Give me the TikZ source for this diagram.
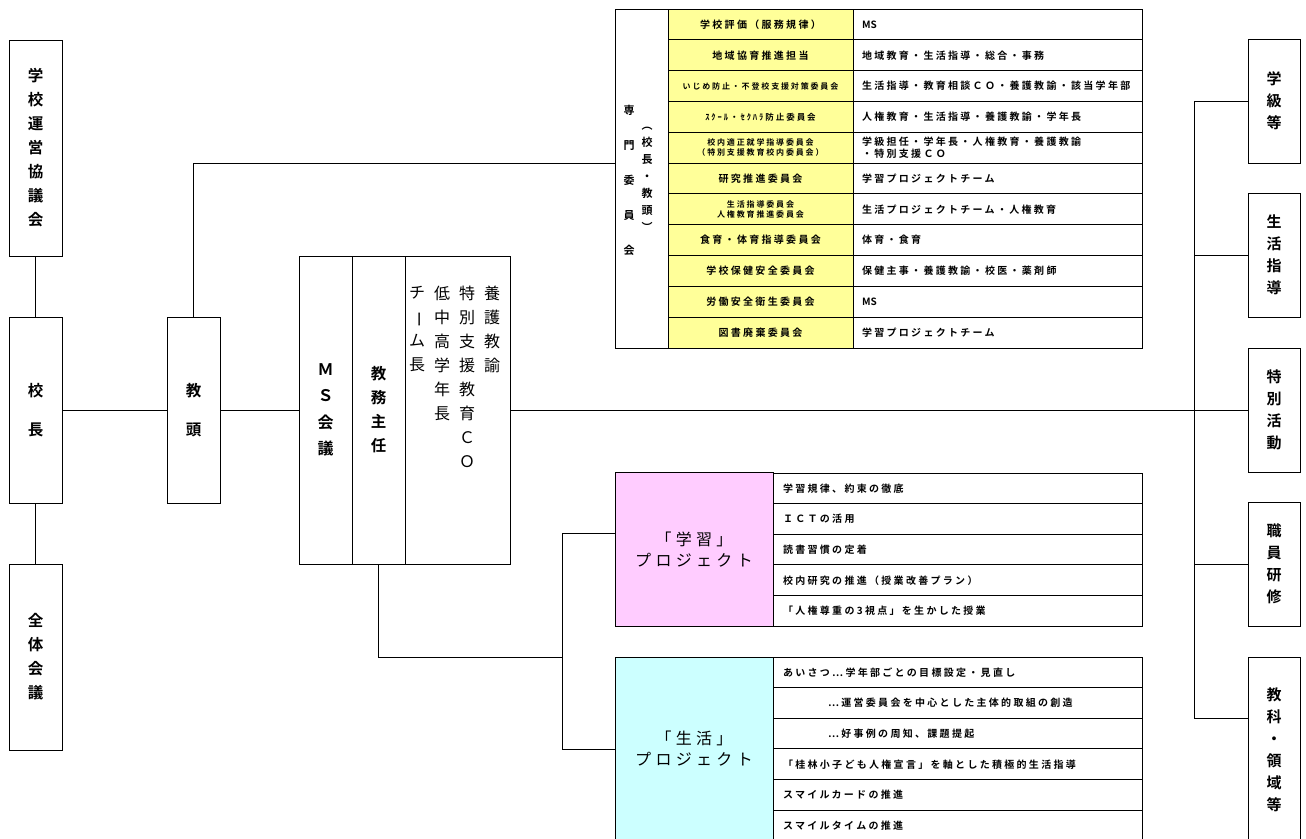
\documentclass[tikz,border=0pt]{standalone}
\usepackage{fontspec}
\usepackage{graphicx}
\newfontfamily\jp{Noto Sans CJK JP}
\newfontfamily\jpb{Noto Sans CJK JP Bold}
\newfontfamily\jps[LetterSpace=23]{Noto Sans CJK JP Bold}
\newfontfamily\jpl[LetterSpace=27]{Noto Sans CJK JP}
\definecolor{kiiro}{RGB}{255,255,153}
\definecolor{momo}{RGB}{255,204,255}
\definecolor{mizu}{RGB}{204,255,255}
\newcommand{\tatebou}{\rotatebox[origin=c]{-90}{ー}}

\begin{document}
\begin{tikzpicture}[x=1pt,y=-1pt,line width=1pt,
  box/.style={draw,fill=white,minimum width=53pt,inner sep=0pt,align=center,
    font=\jpb\fontsize{15.5}{24}\selectfont},
  rbox/.style={box,minimum width=52pt,font=\jpb\fontsize{15}{22}\selectfont},
  tcol/.style={inner sep=0pt,align=center,font=\jp\fontsize{16}{24}\selectfont},
  ycell/.style={draw,fill=kiiro,minimum width=185pt,minimum height=30.82pt,inner sep=0pt,align=center},
  wcell/.style={draw,fill=white,text width=271pt,inner xsep=9pt,inner ysep=0pt,
    minimum height=30.82pt,align=left,font=\jps\fontsize{10}{12}\selectfont},
  pcell/.style={draw,fill=white,text width=349pt,inner xsep=10pt,inner ysep=0pt,
    minimum height=30.65pt,align=left,font=\jps\fontsize{10}{12}\selectfont},
  prj/.style={draw,minimum width=158pt,inner sep=0pt,align=center,font=\jpl\fontsize{16}{21}\selectfont}]
\useasboundingbox (0,0) rectangle (1306,838);
\clip (0,0) rectangle (1306,838);
%
% left column
\node[box,minimum height=216pt] (kyogikai) at (35.5,148) {学\\校\\運\\営\\協\\議\\会};
\node[box,minimum height=186pt] (kocho) at (35.5,410) {校\\[15pt]長};
\node[box,minimum height=186pt] (zentai) at (35.5,657) {全\\体\\会\\議};
\node[box,minimum height=186pt] (kyoto) at (193.5,410) {教\\[15pt]頭};
%
% MS
\node[box,minimum height=308pt,font=\jpb\fontsize{16}{26.5}\selectfont] (mskaigi) at (325.5,410) {Ｍ\\Ｓ\\会\\議};
\node[box,minimum height=308pt] (kyomu) at (378.5,410) {教\\務\\主\\任};
\node[box,minimum width=105pt,minimum height=308pt] (team) at (457.5,410) {};
\node[tcol,anchor=north] (team1) at (492,286) {養\\護\\教\\諭};
\node[tcol,anchor=north] (team2) at (467,286) {特\\別\\支\\援\\教\\育\\Ｃ\\Ｏ};
\node[tcol,anchor=north] (team3) at (442,286) {低\\中\\高\\学\\年\\長};
\node[tcol,anchor=north] (team4) at (417,286) {チ\\\tatebou\\ム\\長};
%
% senmon iinkai
\node[draw,fill=white,minimum width=53pt,minimum height=339pt,inner sep=0pt] (senmon) at (641.5,178.5) {};
\node[inner sep=0pt,align=center,font=\jpb\fontsize{11}{35}\selectfont] (senmon1) at (629,180) {専\\門\\委\\員\\会};
\node[inner sep=0pt,align=center,font=\jpb\fontsize{11}{17}\selectfont] (senmon2) at (647,179) {︵\\校\\長\\・\\教\\頭\\︶};
\foreach \i/\f/\b/\l/\r in {
  1/10/12/学校評価（服務規律）/{\jpb MS},
  2/10/12/地域協育推進担当/地域教育・生活指導・総合・事務,
  3/8/10/いじめ防止・不登校支援対策委員会/生活指導・教育相談ＣＯ・養護教諭・該当学年部,
  4/8.5/10/ｽｸｰﾙ・ｾｸﾊﾗ防止委員会/人権教育・生活指導・養護教諭・学年長,
  5/8/10/{校内適正就学指導委員会\\（特別支援教育校内委員会）}/{学級担任・学年長・人権教育・養護教諭\\・特別支援ＣＯ},
  6/10/12/研究推進委員会/学習プロジェクトチーム,
  7/8/10/{生活指導委員会\\人権教育推進委員会}/生活プロジェクトチーム・人権教育,
  8/10/12/食育・体育指導委員会/体育・食育,
  9/10/12/学校保健安全委員会/保健主事・養護教諭・校医・薬剤師,
  10/10/12/労働安全衛生委員会/{\jpb MS},
  11/10/12/図書廃棄委員会/学習プロジェクトチーム}{
  \node[ycell,font=\jps\fontsize{\f}{\b}\selectfont] (iinkai\i) at (760.5,{9+30.82*(\i-0.5)}) {\l};
  \node[wcell] (tanto\i) at (997.5,{9+30.82*(\i-0.5)}) {\r};
}
%
% projects
\node[prj,fill=momo,minimum height=153.25pt] (gakuprj) at (694,549.6) {「学習」\\プロジェクト};
\foreach \i/\t in {1/学習規律、約束の徹底, 2/ＩＣＴの活用, 3/読書習慣の定着,
  4/校内研究の推進（授業改善プラン）, 5/「人権尊重の3視点」を生かした授業}
  \node[pcell] (gaku\i) at (957.5,{473+30.65*(\i-0.5)}) {\t};
\node[prj,fill=mizu,minimum height=183.9pt] (seiprj) at (694,749) {「生活」\\プロジェクト};
\foreach \i/\t in {1/あいさつ⋯学年部ごとの目標設定・見直し,
  2/\hspace*{45pt}⋯運営委員会を中心とした主体的取組の創造,
  3/\hspace*{45pt}⋯好事例の周知、課題提起,
  4/「桂林小子ども人権宣言」を軸とした積極的生活指導,
  5/スマイルカードの推進, 6/スマイルタイムの推進}
  \node[pcell] (sei\i) at (957.5,{657+30.65*(\i-0.5)}) {\t};
%
% right column
\node[rbox,minimum height=124pt] (gakkyu) at (1274,101) {学\\級\\等};
\node[rbox,minimum height=124pt] (seikatsu) at (1274,255) {生\\活\\指\\導};
\node[rbox,minimum height=124pt] (tokkatsu) at (1274,410) {特\\別\\活\\動};
\node[rbox,minimum height=124pt] (kenshu) at (1274,564) {職\\員\\研\\修};
\node[rbox,minimum height=186pt] (kyoka) at (1274,750) {教\\科\\・\\領\\域\\等};
%
% lines
\draw (kyogikai) -- (kocho);
\draw (kocho) -- (zentai);
\draw (kocho) -- (kyoto);
\draw (kyoto) -- (mskaigi);
\draw (team) -- (tokkatsu);
\coordinate (senmonIn) at (615,163);
\draw (kyoto.north) |- (senmonIn);
\coordinate (kyokaIn) at (1248,718);
\draw (gakkyu.west) -- ++(-53,0) coordinate (busTop) |- (kyokaIn);
\draw (seikatsu.west) -- (seikatsu.west -| busTop);
\draw (kenshu.west) -- (kenshu.west -| busTop);
\coordinate (gakuIn) at (615,533);
\coordinate (prjJoint) at (562,657);
\draw (kyomu.south) |- (prjJoint);
\draw (gakuIn) -- (gakuIn -| prjJoint) |- (seiprj.west);
\end{tikzpicture}
\end{document}
